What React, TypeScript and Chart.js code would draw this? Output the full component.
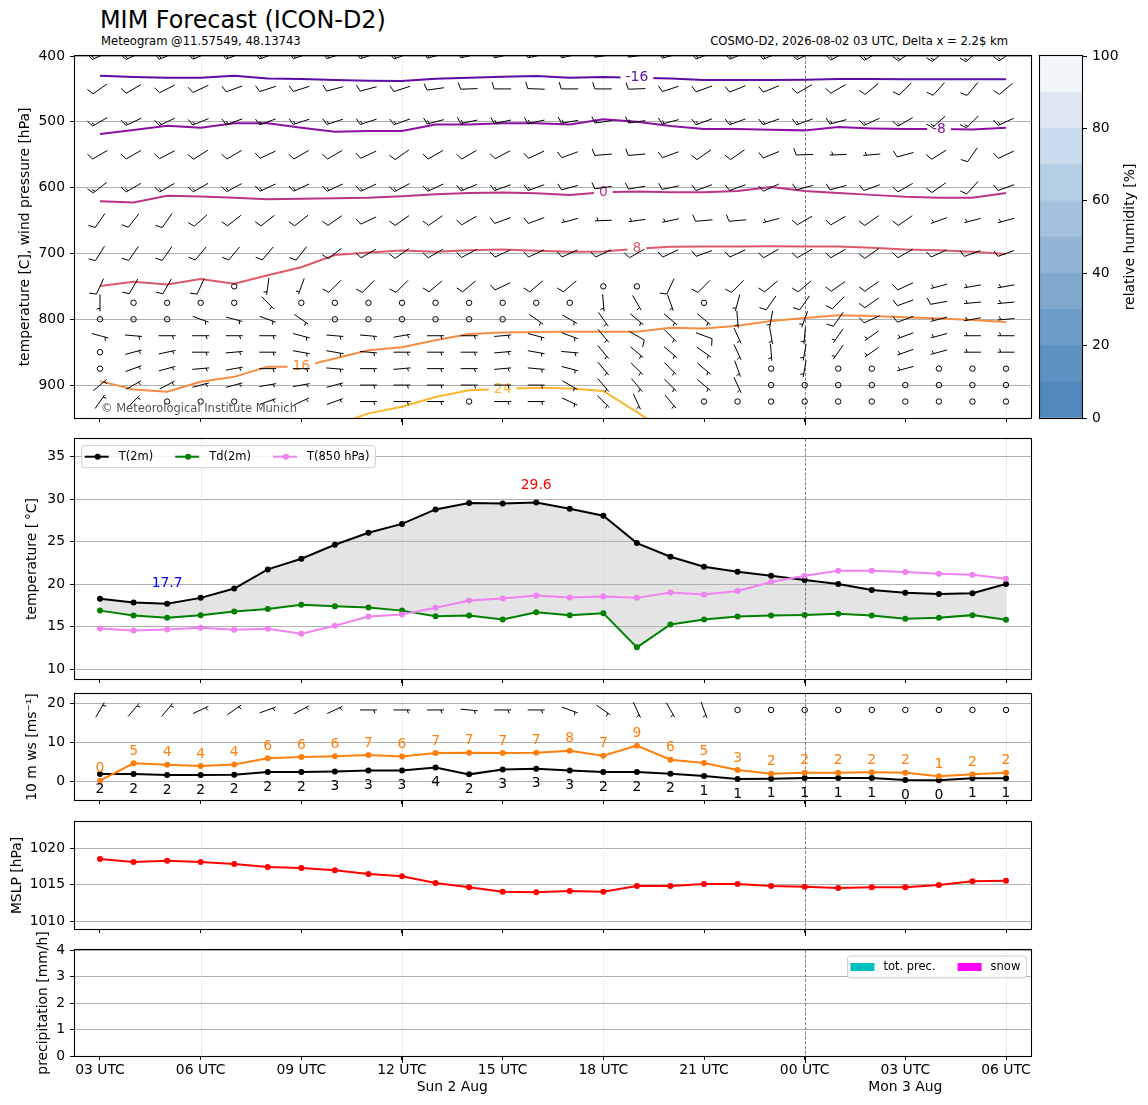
import React, { useEffect, useRef } from 'react';
import { Chart, registerables } from 'chart.js';

Chart.register(...registerables);

// ---------------- texts ----------------
const TITLE = 'MIM Forecast (ICON-D2)';
const SUBTITLE_LEFT = 'Meteogram @11.57549, 48.13743';
const SUBTITLE_RIGHT = 'COSMO-D2, 2026-08-02 03 UTC, Delta x = 2.2$ km';
const COPYRIGHT = '\u00A9 Meteorological Institute Munich';

// ---------------- time axis ----------------
const HOURS = [0, 1, 2, 3, 4, 5, 6, 7, 8, 9, 10, 11, 12, 13, 14, 15, 16, 17, 18, 19, 20, 21, 22, 23, 24, 25, 26, 27];
const TIME_TICKS = [0, 3, 6, 9, 12, 15, 18, 21, 24, 27];
const TIME_LABELS = ['03 UTC', '06 UTC', '09 UTC', '12 UTC', '15 UTC', '18 UTC', '21 UTC', '00 UTC', '03 UTC', '06 UTC'];
const DATE_LABELS = ['Sun 2 Aug', 'Mon 3 Aug'];
const DATE_LABEL_HOURS = [10.5, 24];
const SIX_HOUR_LINES = [3, 9, 15, 27];
const MIDNIGHT_LINES = [21];
const MAJOR_TICKS = [9, 21];
const X_MIN = -0.745;
const X_MAX = 27.745;

// ---------------- surface series ----------------
const T2M = [18.3, 17.85, 17.7, 18.4, 19.5, 21.75, 23.0, 24.65, 26.05, 27.1, 28.8, 29.55, 29.5, 29.6, 28.87, 28.05, 24.84, 23.24, 22.07, 21.48, 21.0, 20.5, 20.04, 19.33, 19.0, 18.85, 18.95, 20.04];
const TD2M = [16.9, 16.33, 16.05, 16.37, 16.8, 17.1, 17.6, 17.42, 17.27, 16.9, 16.25, 16.33, 15.86, 16.72, 16.37, 16.6, 12.58, 15.27, 15.86, 16.2, 16.33, 16.4, 16.52, 16.33, 15.94, 16.05, 16.37, 15.82];
const T850 = [14.8, 14.57, 14.69, 14.88, 14.65, 14.77, 14.18, 15.12, 16.2, 16.45, 17.23, 18.09, 18.32, 18.67, 18.44, 18.55, 18.4, 19.02, 18.79, 19.22, 20.27, 21.0, 21.6, 21.6, 21.45, 21.25, 21.13, 20.66];
const WS10 = [1.96, 1.96, 1.7, 1.7, 1.8, 2.45, 2.45, 2.6, 2.85, 2.85, 3.6, 1.87, 3.1, 3.3, 2.85, 2.45, 2.45, 2.04, 1.45, 0.68, 0.77, 0.94, 0.94, 0.94, 0.43, 0.34, 0.85, 0.85];
const GUST10 = [0.26, 4.68, 4.34, 4.0, 4.4, 5.96, 6.3, 6.47, 6.8, 6.45, 7.3, 7.4, 7.3, 7.4, 7.9, 6.6, 9.2, 5.6, 4.77, 2.98, 2.04, 2.3, 2.3, 2.38, 2.3, 1.36, 1.87, 2.3];
const DIR_10M = [30, 40, 40, 65, 55, 70, 62, 65, 90, 90, 90, 95, 90, 90, 110, 125, 155, 150, 160, 0, 0, 0, 0, 0, 0, 0, 0, 0];
const MSLP = [1018.53, 1018.12, 1018.3, 1018.12, 1017.84, 1017.43, 1017.3, 1016.97, 1016.47, 1016.15, 1015.23, 1014.63, 1014.04, 1013.94, 1014.13, 1014.04, 1014.82, 1014.82, 1015.1, 1015.1, 1014.82, 1014.72, 1014.54, 1014.63, 1014.63, 1014.95, 1015.46, 1015.55];
const TOT_PREC = [0, 0, 0, 0, 0, 0, 0, 0, 0, 0, 0, 0, 0, 0, 0, 0, 0, 0, 0, 0, 0, 0, 0, 0, 0, 0, 0, 0];
const SNOW = [0, 0, 0, 0, 0, 0, 0, 0, 0, 0, 0, 0, 0, 0, 0, 0, 0, 0, 0, 0, 0, 0, 0, 0, 0, 0, 0, 0];
const MS_TO_KT = 1.944;
const WIND10_ROW = 18.3;

// ---------------- isotherms (pressure of isotherm, hPa) ----------------
const ISO_M16 = [430, 432, 433, 433, 430, 434, 435, 436.5, 437.5, 438, 434.5, 433, 431.5, 430.5, 433, 432, 433, 434, 436.5, 436.5, 436.5, 436, 435, 435, 435.5, 435.5, 435.5, 435.5];
const ISO_M8 = [518.6, 512.6, 506, 509, 502, 502, 509, 515, 514, 514, 504, 504, 502, 502, 504, 496, 500, 506.5, 511, 511, 512, 513, 508, 510, 511, 511, 511.5, 509];
const ISO_0 = [620.6, 622.6, 612.5, 613.5, 615.5, 617.5, 617, 616, 615.5, 613, 610, 608, 607.5, 608.5, 611, 607, 606, 607, 607, 605, 599, 605, 608, 611, 614, 615.5, 615.5, 608];
const ISO_P8 = [749.6, 743, 747, 739, 746, 733, 721, 702.5, 698.5, 695.5, 697.5, 695, 694, 696, 697.5, 697, 693, 690, 689.5, 689.5, 689, 689.5, 689.5, 691.5, 694, 695, 697.5, 701];
const ISO_P16 = [894, 906.7, 910, 895, 887.5, 872, 872, 859.5, 847, 842.5, 832, 822.5, 820, 819.5, 819, 819, 819, 813, 814, 810, 802.5, 798, 794, 795, 797, 799, 801, 804];
const ISO_P24 = [null, null, null, null, null, null, null, 961, 943, 933, 918, 908, 906, 904, 905, 909, 941, 974, null, null, null, null, null, null, null, null, null, null];
const ISO_LEVELS = [-16, -8, 0, 8, 16, 24];
const ISO_DATA = [ISO_M16, ISO_M8, ISO_0, ISO_P8, ISO_P16, ISO_P24];
const ISO_LABEL_HOURS = [16, 25, 15, 16, 6, 12];
const ISO_COLORS = ['#5d0ca5', '#8b10a3', '#bb3488', '#dc5a69', '#f68d45', '#fdb42f'];

// ---------------- wind profile (direction deg, speed kt) ----------------
const WIND_LEVELS = [400, 450, 500, 550, 600, 650, 700, 750, 775, 800, 825, 850, 875, 900, 925];
const DIR_400 = [245, 245, 248, 248, 250, 250, 252, 252, 252, 250, 255, 258, 258, 258, 258, 262, 262, 255, 250, 248, 248, 245, 242, 240, 235, 230, 228, 235];
const SPD_400 = [15, 15, 15, 15, 15, 15, 15, 15, 15, 15, 15, 15, 15, 15, 15, 15, 15, 15, 15, 15, 15, 15, 15, 15, 15, 15, 15, 15];
const DIR_450 = [235, 240, 243, 245, 250, 252, 252, 255, 255, 252, 262, 268, 270, 272, 270, 270, 268, 252, 250, 248, 248, 240, 240, 230, 225, 222, 220, 230];
const SPD_450 = [10, 10, 10, 10, 10, 10, 10, 10, 10, 10, 10, 10, 10, 10, 10, 10, 10, 10, 10, 10, 10, 10, 10, 10, 10, 10, 10, 10];
const DIR_500 = [240, 245, 245, 248, 250, 250, 252, 252, 252, 250, 255, 258, 258, 258, 260, 262, 262, 255, 250, 250, 250, 250, 255, 245, 240, 228, 225, 245];
const SPD_500 = [15, 15, 15, 15, 15, 15, 15, 15, 15, 15, 15, 15, 15, 15, 15, 15, 15, 15, 15, 15, 15, 15, 15, 15, 15, 15, 15, 15];
const DIR_550 = [240, 240, 242, 238, 240, 245, 240, 240, 245, 235, 240, 240, 242, 245, 250, 265, 265, 250, 235, 235, 248, 268, 268, 265, 255, 238, 215, 245];
const SPD_550 = [10, 10, 10, 10, 10, 10, 10, 10, 10, 10, 10, 10, 10, 10, 10, 10, 10, 10, 10, 10, 10, 10, 5, 5, 10, 10, 10, 10];
const DIR_600 = [232, 240, 240, 240, 242, 245, 245, 245, 245, 242, 245, 248, 250, 250, 255, 262, 260, 258, 250, 250, 245, 255, 255, 250, 240, 235, 222, 250];
const SPD_600 = [15, 15, 15, 15, 15, 15, 15, 15, 15, 15, 15, 15, 15, 15, 10, 10, 10, 10, 10, 10, 10, 10, 10, 10, 10, 10, 10, 10];
const DIR_650 = [215, 218, 215, 228, 232, 232, 232, 235, 245, 235, 235, 240, 250, 250, 255, 268, 262, 258, 265, 265, 255, 240, 240, 235, 235, 250, 255, 255];
const SPD_650 = [10, 10, 10, 10, 10, 10, 10, 10, 10, 10, 10, 10, 10, 10, 5, 5, 5, 5, 10, 10, 5, 10, 10, 10, 10, 5, 5, 5];
const DIR_700 = [212, 215, 215, 220, 220, 220, 218, 232, 240, 235, 240, 242, 245, 245, 245, 245, 240, 245, 250, 245, 240, 240, 240, 235, 240, 245, 250, 250];
const SPD_700 = [10, 10, 10, 10, 10, 10, 10, 10, 10, 10, 10, 10, 10, 10, 10, 10, 10, 10, 10, 10, 10, 10, 10, 10, 10, 10, 10, 10];
const DIR_750 = [205, 210, 210, 205, 0, 188, 200, 225, 225, 225, 230, 230, 245, 230, 230, 0, 0, 205, 225, 225, 230, 230, 235, 235, 245, 255, 260, 260];
const SPD_750 = [10, 10, 10, 10, 0, 5, 5, 10, 10, 10, 10, 10, 10, 10, 10, 0, 0, 10, 10, 10, 10, 10, 10, 10, 10, 5, 5, 5];
const DIR_775 = [180, 0, 0, 0, 0, 135, 0, 0, 0, 0, 0, 0, 0, 0, 0, 175, 150, 160, 0, 195, 215, 215, 225, 235, 250, 260, 265, 265];
const SPD_775 = [5, 0, 0, 0, 0, 5, 0, 0, 0, 0, 0, 0, 0, 0, 0, 5, 5, 5, 0, 5, 10, 10, 10, 10, 10, 10, 5, 5];
const DIR_800 = [0, 0, 0, 110, 105, 110, 125, 0, 0, 0, 0, 0, 0, 125, 120, 145, 130, 130, 130, 175, 190, 200, 215, 245, 250, 255, 260, 265];
const SPD_800 = [0, 0, 0, 5, 5, 5, 5, 0, 0, 0, 0, 0, 0, 5, 5, 5, 5, 5, 5, 5, 5, 5, 10, 10, 10, 5, 5, 5];
const DIR_825 = [105, 95, 90, 90, 90, 90, 105, 95, 95, 80, 90, 90, 85, 105, 110, 140, 120, 135, 110, 155, 170, 185, 215, 235, 250, 255, 270, 270];
const SPD_825 = [5, 5, 5, 5, 5, 5, 5, 5, 5, 5, 5, 5, 5, 5, 5, 5, 10, 5, 10, 5, 5, 5, 5, 5, 5, 5, 5, 5];
const DIR_850 = [0, 75, 78, 90, 85, 90, 100, 100, 95, 90, 90, 90, 85, 100, 95, 140, 130, 130, 125, 155, 175, 190, 215, 235, 250, 255, 270, 270];
const SPD_850 = [0, 5, 5, 5, 5, 5, 5, 5, 5, 5, 5, 5, 5, 5, 5, 5, 5, 5, 5, 5, 5, 5, 5, 5, 5, 5, 5, 5];
const DIR_875 = [0, 70, 75, 85, 80, 90, 90, 95, 90, 85, 90, 90, 85, 95, 105, 140, 135, 135, 130, 160, 0, 190, 0, 0, 255, 0, 0, 0];
const SPD_875 = [0, 5, 5, 5, 5, 5, 5, 5, 5, 5, 5, 5, 5, 5, 5, 5, 5, 5, 5, 5, 0, 5, 0, 0, 5, 0, 0, 0];
const DIR_900 = [50, 60, 62, 75, 75, 80, 80, 75, 90, 90, 90, 90, 90, 90, 120, 140, 140, 135, 130, 155, 0, 0, 0, 0, 0, 0, 0, 0];
const SPD_900 = [5, 5, 5, 5, 5, 5, 5, 5, 5, 5, 5, 5, 5, 5, 5, 5, 5, 5, 5, 5, 0, 0, 0, 0, 0, 0, 0, 0];
const DIR_925 = [35, 45, 0, 0, 0, 70, 65, 70, 90, 90, 90, 0, 90, 90, 115, 135, 155, 140, 0, 0, 0, 0, 0, 0, 0, 0, 0, 0];
const SPD_925 = [5, 5, 0, 0, 0, 5, 5, 5, 5, 5, 5, 0, 5, 5, 5, 5, 5, 5, 0, 0, 0, 0, 0, 0, 0, 0, 0, 0];
const WIND_DIRS = [DIR_400, DIR_450, DIR_500, DIR_550, DIR_600, DIR_650, DIR_700, DIR_750, DIR_775, DIR_800, DIR_825, DIR_850, DIR_875, DIR_900, DIR_925];
const WIND_SPDS = [SPD_400, SPD_450, SPD_500, SPD_550, SPD_600, SPD_650, SPD_700, SPD_750, SPD_775, SPD_800, SPD_825, SPD_850, SPD_875, SPD_900, SPD_925];

// ---------------- humidity colour bar ----------------
const RH_BOUNDS = [0, 10, 20, 30, 40, 50, 60, 70, 80, 90, 100];
const RH_TICKS_STEP = 20;
const RH_COLORS = ['#5087bc', '#5e91c2', '#6e9cc8', '#80a8cf', '#92b5d6', '#a4c1dd', '#b6cee5', '#c9dbec', '#dfe8f2', '#f1f6fa'];

// ---------------- style ----------------
const FONT = "'DejaVu Sans', sans-serif";
const F_TICK = { family: FONT, size: 13.9 };
const F_SMALL_PX = 11.5;
const PLOT_LEFT = 75;
const BARB_LEN = 17;

const xy = (arr: any[]) => arr.map((v, i) => ({ x: HOURS[i], y: v }));

function drawBarb(ctx: any, cx: number, cy: number, dirDeg: number, speed: number, L: number) {
  const s = Math.round(speed / 5) * 5;
  if (s <= 0) {
    ctx.beginPath();
    ctx.arc(cx, cy, 0.16 * L, 0, Math.PI * 2);
    ctx.stroke();
    return;
  }
  const r = (dirDeg * Math.PI) / 180;
  const dx = Math.sin(r), dy = -Math.cos(r);
  const px = Math.cos(r), py = Math.sin(r);
  const half = L / 2;
  const sp = 0.125 * L, h = 0.4 * L, w = 0.25 * L;
  ctx.beginPath();
  ctx.moveTo(cx - dx * half, cy - dy * half);
  ctx.lineTo(cx + dx * half, cy + dy * half);
  let rem = s;
  const nFlag = Math.floor(rem / 50); rem -= nFlag * 50;
  const nFull = Math.floor(rem / 10); rem -= nFull * 10;
  const hasHalf = rem >= 5;
  let off = half;
  for (let k = 0; k < nFlag; k++) {
    const bx = cx + dx * off, by = cy + dy * off;
    ctx.moveTo(bx, by);
    ctx.lineTo(bx + px * h - dx * w / 2, by + py * h - dy * w / 2);
    ctx.lineTo(bx - dx * w, by - dy * w);
    off -= w + sp;
  }
  for (let k = 0; k < nFull; k++) {
    const bx = cx + dx * off, by = cy + dy * off;
    ctx.moveTo(bx, by);
    ctx.lineTo(bx + px * h + dx * w / 2, by + py * h + dy * w / 2);
    off -= sp;
  }
  if (hasHalf) {
    if (off === half) off -= 1.5 * sp;
    const bx = cx + dx * off, by = cy + dy * off;
    ctx.moveTo(bx, by);
    ctx.lineTo(bx + px * h / 2 + dx * w / 4, by + py * h / 2 + dy * w / 4);
  }
  ctx.stroke();
}

function drawVLines(chart: any) {
  const { ctx, chartArea: a, scales } = chart;
  const x = scales.x;
  ctx.save();
  ctx.lineWidth = 0.8;
  ctx.strokeStyle = '#c4c4c4';
  ctx.setLineDash([1, 1.6]);
  SIX_HOUR_LINES.forEach((hh) => {
    const p = Math.round(x.getPixelForValue(hh)) + 0.5;
    ctx.beginPath(); ctx.moveTo(p, a.top); ctx.lineTo(p, a.bottom); ctx.stroke();
  });
  ctx.strokeStyle = '#606060';
  ctx.setLineDash([3.2, 1.6]);
  MIDNIGHT_LINES.forEach((hh) => {
    const p = Math.round(x.getPixelForValue(hh)) + 0.5;
    ctx.beginPath(); ctx.moveTo(p, a.top); ctx.lineTo(p, a.bottom); ctx.stroke();
  });
  ctx.restore();
}

function drawFrame(chart: any) {
  const { ctx, chartArea: a } = chart;
  ctx.save();
  ctx.strokeStyle = '#000';
  ctx.lineWidth = 1.1;
  ctx.strokeRect(a.left - 0.5, a.top - 0.5, a.right - a.left + 1, a.bottom - a.top + 1);
  ctx.restore();
}

function drawMajorTicks(chart: any) {
  const { ctx, chartArea: a, scales } = chart;
  ctx.save();
  ctx.strokeStyle = '#000';
  ctx.lineWidth = 1;
  MAJOR_TICKS.forEach((hh) => {
    const p = Math.round(scales.x.getPixelForValue(hh)) + 0.5;
    ctx.beginPath(); ctx.moveTo(p, a.bottom); ctx.lineTo(p, a.bottom + 7); ctx.stroke();
  });
  ctx.restore();
}

function roundRectPath(ctx: any, x: number, y: number, w: number, h: number, r: number) {
  ctx.beginPath();
  ctx.moveTo(x + r, y);
  ctx.lineTo(x + w - r, y); ctx.arcTo(x + w, y, x + w, y + r, r);
  ctx.lineTo(x + w, y + h - r); ctx.arcTo(x + w, y + h, x + w - r, y + h, r);
  ctx.lineTo(x + r, y + h); ctx.arcTo(x, y + h, x, y + h - r, r);
  ctx.lineTo(x, y + r); ctx.arcTo(x, y, x + r, y, r);
  ctx.closePath();
}

function drawLegend(ctx: any, items: { label: string; color: string; kind: string }[], anchorX: number, topY: number, alignRight: boolean) {
  ctx.save();
  ctx.font = `${F_SMALL_PX}px ${FONT}`;
  const widths = items.map((it) => ctx.measureText(it.label).width);
  const itemW = items.map((it, i) => (it.kind === 'line' ? 34 : 33) + widths[i]);
  const gap = 22;
  const padL = 3, padR = 6;
  const total = padL + itemW.reduce((s, v) => s + v, 0) + gap * (items.length - 1) + padR;
  const x0 = alignRight ? anchorX - total : anchorX;
  const bh = 22;
  roundRectPath(ctx, x0, topY, total, bh, 3);
  ctx.fillStyle = 'rgba(255,255,255,0.85)';
  ctx.fill();
  ctx.strokeStyle = '#cccccc';
  ctx.lineWidth = 1;
  ctx.stroke();
  const cy = topY + bh / 2;
  let cx = x0 + padL;
  items.forEach((it, i) => {
    if (it.kind === 'line') {
      ctx.strokeStyle = it.color; ctx.lineWidth = 2;
      ctx.beginPath(); ctx.moveTo(cx, cy); ctx.lineTo(cx + 24, cy); ctx.stroke();
      ctx.fillStyle = it.color;
      ctx.beginPath(); ctx.arc(cx + 13, cy, 3, 0, Math.PI * 2); ctx.fill();
      ctx.fillStyle = '#000'; ctx.textAlign = 'left'; ctx.textBaseline = 'middle';
      ctx.fillText(it.label, cx + 34, cy);
    } else {
      ctx.fillStyle = it.color;
      ctx.fillRect(cx, cy - 4, 24, 8);
      ctx.fillStyle = '#000'; ctx.textAlign = 'left'; ctx.textBaseline = 'middle';
      ctx.fillText(it.label, cx + 33, cy);
    }
    cx += itemW[i] + gap;
  });
  ctx.restore();
}

function xAxis(height: number, showLabels: boolean): any {
  return {
    type: 'linear',
    min: X_MIN,
    max: X_MAX,
    offset: false,
    afterBuildTicks: (axis: any) => { axis.ticks = TIME_TICKS.map((v) => ({ value: v })); },
    afterFit: (axis: any) => { axis.height = height; axis.paddingLeft = 0; axis.paddingRight = 0; axis.paddingTop = 0; axis.paddingBottom = 0; },
    border: { display: false },
    grid: { offset: false, drawOnChartArea: false, drawTicks: true, tickLength: 4, tickColor: '#000', tickWidth: 1 },
    ticks: {
      display: showLabels,
      autoSkip: false,
      maxRotation: 0,
      minRotation: 0,
      padding: 2,
      color: '#000',
      font: F_TICK,
      callback: (_v: any, i: number) => TIME_LABELS[i],
    },
  };
}

function yAxis(o: { min: number; max: number; step: number; reverse?: boolean; title: string; titlePad: number }): any {
  return {
    type: 'linear',
    min: o.min,
    max: o.max,
    reverse: !!o.reverse,
    afterFit: (axis: any) => { axis.width = PLOT_LEFT; axis.paddingTop = 0; axis.paddingBottom = 0; axis.paddingLeft = 0; axis.paddingRight = 0; },
    border: { display: false },
    grid: { color: '#b0b0b0', lineWidth: 1, drawTicks: true, tickLength: 5, tickColor: '#000' },
    ticks: { stepSize: o.step, includeBounds: false, autoSkip: false, padding: 5, color: '#000', font: F_TICK, callback: (v: any) => String(v) },
    title: { display: true, text: o.title, color: '#000', font: F_TICK, padding: { top: o.titlePad, bottom: 0 } },
  };
}

const baseOptions = (padTop: number, padRight: number) => ({
  responsive: false,
  animation: false,
  events: [],
  layout: { padding: { top: padTop, right: padRight, left: 0, bottom: 0 } },
  plugins: { legend: { display: false }, tooltip: { enabled: false } },
});

// ---------------- panel configs ----------------
function profileConfig(): any {
  const plugin = {
    id: 'profile',
    beforeDatasetsDraw(chart: any) {
      drawVLines(chart);
      const { ctx, scales } = chart;
      ctx.save();
      ctx.font = `13.9px ${FONT}`;
      ctx.beginPath();
      ctx.rect(0, 0, chart.width, chart.height);
      ISO_LEVELS.forEach((lv, k) => {
        const hh = ISO_LABEL_HOURS[k];
        const px = scales.x.getPixelForValue(HOURS[hh]);
        const py = scales.y.getPixelForValue(ISO_DATA[k][hh]);
        const w = ctx.measureText(String(lv)).width + 10;
        ctx.rect(px - w / 2, py - 8, w, 16);
      });
      ctx.clip('evenodd');
    },
    afterDatasetsDraw(chart: any) {
      const { ctx, chartArea: a, scales } = chart;
      ctx.restore();
      ctx.save();
      ctx.font = `13.9px ${FONT}`;
      ctx.textAlign = 'center';
      ctx.textBaseline = 'middle';
      ISO_LEVELS.forEach((lv, k) => {
        const hh = ISO_LABEL_HOURS[k];
        ctx.fillStyle = ISO_COLORS[k];
        ctx.fillText(String(lv), scales.x.getPixelForValue(HOURS[hh]), scales.y.getPixelForValue(ISO_DATA[k][hh]));
      });
      ctx.restore();
      ctx.save();
      ctx.beginPath();
      ctx.rect(a.left, a.top, a.right - a.left, a.bottom - a.top);
      ctx.clip();
      ctx.strokeStyle = '#000';
      ctx.lineWidth = 1;
      WIND_LEVELS.forEach((lev, li) => {
        const py = scales.y.getPixelForValue(lev);
        HOURS.forEach((hh, i) => drawBarb(ctx, scales.x.getPixelForValue(hh), py, WIND_DIRS[li][i], WIND_SPDS[li][i], BARB_LEN));
      });
      ctx.fillStyle = '#555555';
      ctx.font = `${F_SMALL_PX}px ${FONT}`;
      ctx.textAlign = 'left';
      ctx.textBaseline = 'middle';
      ctx.fillText(COPYRIGHT, a.left + 26, a.bottom - 8.5);
      ctx.restore();
    },
    afterDraw(chart: any) { drawFrame(chart); drawMajorTicks(chart); },
  };
  return {
    type: 'line',
    data: {
      datasets: ISO_DATA.map((d, k) => ({
        data: xy(d),
        borderColor: ISO_COLORS[k],
        borderWidth: 2,
        pointRadius: 0,
        tension: 0,
        spanGaps: false,
        fill: false,
      })),
    },
    options: {
      ...baseOptions(10, 9),
      scales: {
        x: xAxis(20, false),
        y: yAxis({ min: 400, max: 950, step: 100, reverse: true, title: 'temperature [C], wind pressure [hPa]', titlePad: 16.7 }),
      },
    },
    plugins: [plugin],
  };
}

function colorbarConfig(): any {
  const plugin = {
    id: 'cbar',
    afterDraw(chart: any) {
      drawFrame(chart);
      const { ctx, chartArea: a } = chart;
      ctx.save();
      ctx.translate(130, (a.top + a.bottom) / 2);
      ctx.rotate(-Math.PI / 2);
      ctx.fillStyle = '#000';
      ctx.font = `13.9px ${FONT}`;
      ctx.textAlign = 'center';
      ctx.textBaseline = 'middle';
      ctx.fillText('relative humidity [%]', 0, 0);
      ctx.restore();
    },
  };
  return {
    type: 'bar',
    data: {
      labels: ['rh'],
      datasets: RH_COLORS.map((c, k) => ({
        data: [RH_BOUNDS[k + 1] - RH_BOUNDS[k]],
        backgroundColor: c,
        borderWidth: 0,
        barPercentage: 1,
        categoryPercentage: 1,
      })),
    },
    options: {
      responsive: false,
      animation: false,
      events: [],
      layout: { padding: { left: 40, top: 10, bottom: 20, right: 0 } },
      plugins: { legend: { display: false }, tooltip: { enabled: false } },
      scales: {
        x: { stacked: true, display: false },
        y: {
          stacked: true,
          position: 'right',
          min: 0,
          max: 100,
          afterFit: (axis: any) => { axis.width = 66; axis.paddingTop = 0; axis.paddingBottom = 0; },
          border: { display: false },
          grid: { drawOnChartArea: false, drawTicks: true, tickLength: 5, tickColor: '#000' },
          ticks: { stepSize: RH_TICKS_STEP, padding: 5, color: '#000', font: F_TICK, callback: (v: any) => String(v) },
        },
      },
    },
    plugins: [plugin],
  };
}

function tempConfig(): any {
  const plugin = {
    id: 'temp',
    beforeDatasetsDraw(chart: any) { drawVLines(chart); },
    afterDatasetsDraw(chart: any) {
      const { ctx, scales } = chart;
      let iMin = 0, iMax = 0;
      T2M.forEach((v, i) => { if (v < T2M[iMin]) iMin = i; if (v > T2M[iMax]) iMax = i; });
      ctx.save();
      ctx.font = `13.9px ${FONT}`;
      ctx.textAlign = 'center';
      ctx.textBaseline = 'middle';
      ctx.fillStyle = '#0000ff';
      ctx.fillText(T2M[iMin].toFixed(1), scales.x.getPixelForValue(HOURS[iMin]), scales.y.getPixelForValue(T2M[iMin]) - 20);
      ctx.fillStyle = '#ff0000';
      ctx.fillText(T2M[iMax].toFixed(1), scales.x.getPixelForValue(HOURS[iMax]), scales.y.getPixelForValue(T2M[iMax]) - 17);
      ctx.restore();
    },
    afterDraw(chart: any) {
      drawFrame(chart);
      drawMajorTicks(chart);
      const a = chart.chartArea;
      drawLegend(chart.ctx, [
        { label: 'T(2m)', color: '#000000', kind: 'line' },
        { label: 'Td(2m)', color: '#008000', kind: 'line' },
        { label: 'T(850 hPa)', color: '#ee82ee', kind: 'line' },
      ], a.left + 6.7, a.top + 6.7, false);
    },
  };
  const line = (data: number[], color: string, extra: any = {}) => ({
    data: xy(data),
    borderColor: color,
    backgroundColor: color,
    pointBackgroundColor: color,
    pointBorderWidth: 0,
    pointRadius: 3,
    borderWidth: 2,
    tension: 0,
    fill: false,
    ...extra,
  });
  return {
    type: 'line',
    data: {
      datasets: [
        line(T850, '#ee82ee'),
        line(TD2M, '#008000'),
        line(T2M, '#000000', { fill: { target: 1 }, backgroundColor: '#e4e4e4', pointBackgroundColor: '#000000' }),
      ],
    },
    options: {
      ...baseOptions(9, 117),
      plugins: { legend: { display: false }, tooltip: { enabled: false }, filler: { drawTime: 'beforeDraw' } },
      scales: {
        x: xAxis(8, false),
        y: yAxis({ min: 8.86, max: 37.08, step: 5, title: 'temperature [\u2009\u00B0C]', titlePad: 23.7 }),
      },
    },
    plugins: [plugin],
  };
}

function windConfig(): any {
  const plugin = {
    id: 'wind',
    beforeDatasetsDraw(chart: any) { drawVLines(chart); },
    afterDatasetsDraw(chart: any) {
      const { ctx, scales, chartArea: a } = chart;
      ctx.save();
      ctx.font = `13.9px ${FONT}`;
      ctx.textAlign = 'center';
      ctx.textBaseline = 'middle';
      HOURS.forEach((hh, i) => {
        const px = scales.x.getPixelForValue(hh);
        ctx.fillStyle = '#ff7f0e';
        ctx.fillText(String(Math.round(GUST10[i])), px, scales.y.getPixelForValue(GUST10[i]) - 12);
        ctx.fillStyle = '#000000';
        ctx.fillText(String(Math.round(WS10[i])), px, scales.y.getPixelForValue(WS10[i]) + 15);
      });
      ctx.restore();
      ctx.save();
      ctx.beginPath();
      ctx.rect(a.left, a.top, a.right - a.left, a.bottom - a.top);
      ctx.clip();
      ctx.strokeStyle = '#000';
      ctx.lineWidth = 1;
      const py = scales.y.getPixelForValue(WIND10_ROW);
      HOURS.forEach((hh, i) => drawBarb(ctx, scales.x.getPixelForValue(hh), py, DIR_10M[i], WS10[i] * MS_TO_KT, BARB_LEN));
      ctx.restore();
    },
    afterDraw(chart: any) { drawFrame(chart); drawMajorTicks(chart); },
  };
  const line = (data: number[], color: string) => ({
    data: xy(data),
    borderColor: color,
    backgroundColor: color,
    pointBackgroundColor: color,
    pointBorderWidth: 0,
    pointRadius: 3,
    borderWidth: 2,
    tension: 0,
    fill: false,
  });
  return {
    type: 'line',
    data: { datasets: [line(GUST10, '#ff7f0e'), line(WS10, '#000000')] },
    options: {
      ...baseOptions(8, 117),
      scales: {
        x: xAxis(8, false),
        y: yAxis({ min: -4.67, max: 22.37, step: 10, title: '10 m ws [ms\u207B\u00B9]', titlePad: 23.7 }),
      },
    },
    plugins: [plugin],
  };
}

function mslpConfig(): any {
  const plugin = {
    id: 'mslp',
    beforeDatasetsDraw(chart: any) { drawVLines(chart); },
    afterDraw(chart: any) { drawFrame(chart); drawMajorTicks(chart); },
  };
  return {
    type: 'line',
    data: {
      datasets: [{
        data: xy(MSLP),
        borderColor: '#ff0000',
        backgroundColor: '#ff0000',
        pointBackgroundColor: '#ff0000',
        pointBorderWidth: 0,
        pointRadius: 3,
        borderWidth: 2,
        tension: 0,
        fill: false,
      }],
    },
    options: {
      ...baseOptions(10, 117),
      scales: {
        x: xAxis(8, false),
        y: yAxis({ min: 1008.9, max: 1023.62, step: 5, title: 'MSLP [hPa]', titlePad: 8.7 }),
      },
    },
    plugins: [plugin],
  };
}

function precipConfig(): any {
  const plugin = {
    id: 'precip',
    beforeDatasetsDraw(chart: any) { drawVLines(chart); },
    afterDraw(chart: any) {
      drawFrame(chart);
      drawMajorTicks(chart);
      const { ctx, chartArea: a, scales } = chart;
      drawLegend(ctx, [
        { label: 'tot. prec.', color: '#00bfbf', kind: 'patch' },
        { label: 'snow', color: '#ff00ff', kind: 'patch' },
      ], a.right - 4.7, a.top + 6, true);
      ctx.save();
      ctx.font = `13.9px ${FONT}`;
      ctx.fillStyle = '#000';
      ctx.textAlign = 'center';
      ctx.textBaseline = 'middle';
      DATE_LABELS.forEach((t, k) => ctx.fillText(t, scales.x.getPixelForValue(DATE_LABEL_HOURS[k]), a.bottom + 31.5));
      ctx.restore();
    },
  };
  return {
    type: 'bar',
    data: {
      datasets: [
        { data: xy(TOT_PREC), backgroundColor: '#00bfbf', borderWidth: 0 },
        { data: xy(SNOW), backgroundColor: '#ff00ff', borderWidth: 0 },
      ],
    },
    options: {
      ...baseOptions(30, 117),
      scales: {
        x: xAxis(49, true),
        y: yAxis({ min: 0, max: 4, step: 1, title: 'precipitation [mm/h]', titlePad: 34.7 }),
      },
    },
    plugins: [plugin],
  };
}

function ChartCanvas({ left, top, width, height, make }: { left: number; top: number; width: number; height: number; make: () => any }) {
  const ref = useRef<HTMLCanvasElement | null>(null);
  useEffect(() => {
    const chart = new Chart(ref.current as HTMLCanvasElement, make());
    return () => chart.destroy();
  }, []);
  return (
    <canvas
      ref={ref}
      width={width}
      height={height}
      style={{ position: 'absolute', left, top, width, height, display: 'block' }}
    />
  );
}

export default function App() {
  return (
    <div style={{ position: 'absolute', left: 0, top: 0, width: 1148, height: 1105, background: '#ffffff', fontFamily: FONT, color: '#000', overflow: 'hidden' }}>
      <div style={{ position: 'absolute', left: 100, top: 6, fontSize: 23.9, lineHeight: '28px', whiteSpace: 'nowrap' }}>{TITLE}</div>
      <div style={{ position: 'absolute', left: 101, top: 34, fontSize: 11.6, lineHeight: '14px', whiteSpace: 'nowrap' }}>{SUBTITLE_LEFT}</div>
      <div style={{ position: 'absolute', left: 0, width: 1008, top: 34, fontSize: 11.6, lineHeight: '14px', textAlign: 'right', whiteSpace: 'nowrap' }}>{SUBTITLE_RIGHT}</div>
      <ChartCanvas left={0} top={46} width={1040} height={392} make={profileConfig} />
      <ChartCanvas left={1000} top={46} width={148} height={392} make={colorbarConfig} />
      <ChartCanvas left={0} top={430} width={1148} height={257} make={tempConfig} />
      <ChartCanvas left={0} top={686} width={1148} height={122} make={windConfig} />
      <ChartCanvas left={0} top={812} width={1148} height={125} make={mslpConfig} />
      <ChartCanvas left={0} top={920} width={1148} height={185} make={precipConfig} />
    </div>
  );
}
